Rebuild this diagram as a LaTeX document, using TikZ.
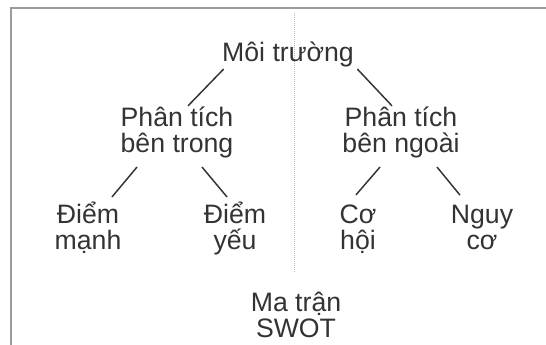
\documentclass[tikz,border=0pt]{standalone}
\usepackage{fontspec}
\setmainfont{Liberation Sans}
\usetikzlibrary{calc}

\tikzset{every picture/.style={line width=0.75pt}}

\begin{document}
\begin{tikzpicture}[x=0.75pt,y=0.75pt,yscale=-1,xscale=1]
	\useasboundingbox (0,0) rectangle (546,345); %diagram is 546 wide, 345 high
	
	%Shape: Frame (top and left edge only) 
	\draw [color={rgb, 255:red, 155; green, 155; blue, 155 }  ,draw opacity=1 ][line width=1.5]   (546,8) -- (10.5,8) -- (10.5,345) ;
	%Straight Lines: divider 
	\draw [color={rgb, 255:red, 185; green, 185; blue, 185 }  ,draw opacity=1 ][line width=0.5] [densely dotted]  (294,13) -- (294,273) ;
	
	% Text Node (anchor=base sits on the last line)
	\draw (288,62) node (env) [anchor=base][inner sep=0.75pt]  [font=\fontsize{20}{19.5}\selectfont,color={rgb, 255:red, 51; green, 51; blue, 51 }] [align=center] {Môi trường};
	% Text Node
	\draw (177,153) node (inside) [anchor=base][inner sep=0.75pt]  [font=\fontsize{20}{19.5}\selectfont,color={rgb, 255:red, 51; green, 51; blue, 51 }] [align=center] {Phân tích\\bên trong};
	% Text Node
	\draw (401,153) node (outside) [anchor=base][inner sep=0.75pt]  [font=\fontsize{20}{19.5}\selectfont,color={rgb, 255:red, 51; green, 51; blue, 51 }] [align=center] {Phân tích\\bên ngoài};
	% Text Node
	\draw (88,250) node (strong) [anchor=base][inner sep=0.75pt]  [font=\fontsize{20}{19.5}\selectfont,color={rgb, 255:red, 51; green, 51; blue, 51 }] [align=center] {Điểm\\mạnh};
	% Text Node
	\draw (235,250) node (weak) [anchor=base][inner sep=0.75pt]  [font=\fontsize{20}{19.5}\selectfont,color={rgb, 255:red, 51; green, 51; blue, 51 }] [align=center] {Điểm\\yếu};
	% Text Node
	\draw (358,250) node (chance) [anchor=base][inner sep=0.75pt]  [font=\fontsize{20}{19.5}\selectfont,color={rgb, 255:red, 51; green, 51; blue, 51 }] [align=center] {Cơ\\hội};
	% Text Node
	\draw (482,250) node (threat) [anchor=base][inner sep=0.75pt]  [font=\fontsize{20}{19.5}\selectfont,color={rgb, 255:red, 51; green, 51; blue, 51 }] [align=center] {Nguy\\cơ};
	% Text Node
	\draw (296,337) node (swot) [anchor=base][inner sep=0.75pt]  [font=\fontsize{20}{19.5}\selectfont,color={rgb, 255:red, 51; green, 51; blue, 51 }] [align=center] {Ma trận\\SWOT};
	
	% Connection
	\draw [color={rgb, 255:red, 51; green, 51; blue, 51 }  ,draw opacity=1 ][line width=1.1]   ($(env.south west)+(3,0)$) -- ($(inside.north)+(11,0)$) ;
	% Connection
	\draw [color={rgb, 255:red, 51; green, 51; blue, 51 }  ,draw opacity=1 ][line width=1.1]   ($(env.south east)+(2,0)$) -- ($(outside.north)+(-9,0)$) ;
	% Connection
	\draw [color={rgb, 255:red, 51; green, 51; blue, 51 }  ,draw opacity=1 ][line width=1.1]   ($(inside.south)+(-40,7)$) -- ($(strong.north)+(24,-4)$) ;
	% Connection
	\draw [color={rgb, 255:red, 51; green, 51; blue, 51 }  ,draw opacity=1 ][line width=1.1]   ($(inside.south)+(25,7)$) -- ($(weak.north)+(-8,-4)$) ;
	% Connection
	\draw [color={rgb, 255:red, 51; green, 51; blue, 51 }  ,draw opacity=1 ][line width=1.1]   ($(outside.south)+(-21,7)$) -- ($(chance.north)+(-2,-9)$) ;
	% Connection
	\draw [color={rgb, 255:red, 51; green, 51; blue, 51 }  ,draw opacity=1 ][line width=1.1]   ($(outside.south)+(36,7)$) -- ($(threat.north)+(-22,-9)$) ;
	
\end{tikzpicture}
\end{document}
